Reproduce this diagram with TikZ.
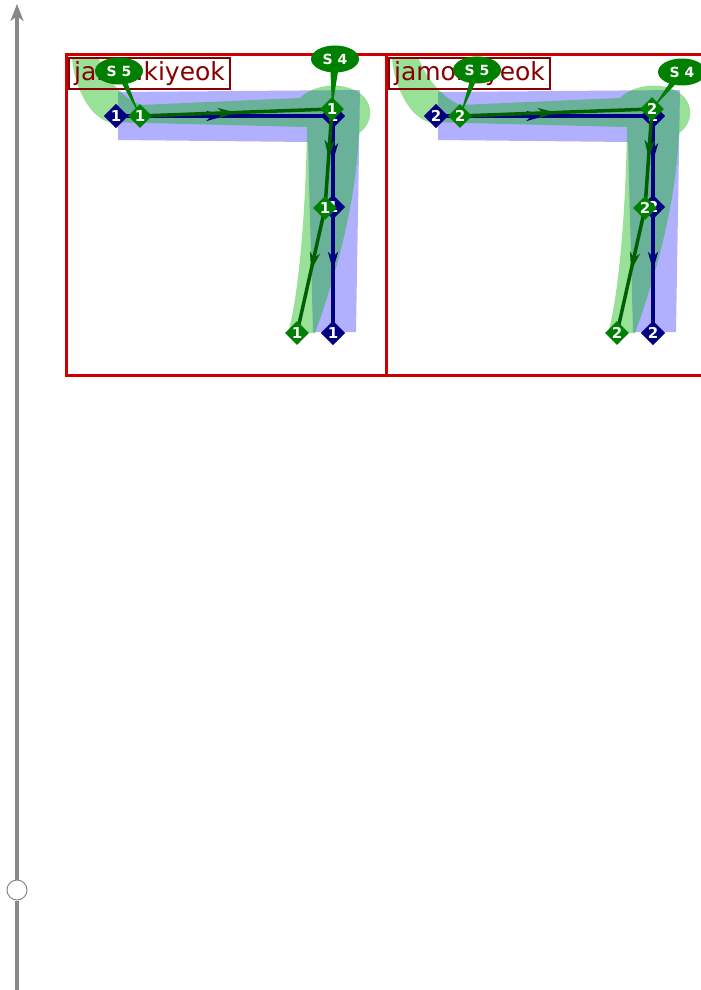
\documentclass[tikz,border=0pt]{standalone}
\usepackage{fontspec}
\setmainfont{DejaVu Sans}
\usetikzlibrary{shapes.geometric,arrows.meta,decorations.markings}
\definecolor{navyc}{RGB}{0,0,128}
\definecolor{dgreen}{RGB}{0,95,0}
\definecolor{mgreen}{RGB}{0,128,0}
\definecolor{shgreen}{RGB}{0,178,0}
\definecolor{panelred}{RGB}{204,0,0}
\definecolor{labred}{RGB}{136,0,0}
\definecolor{tlgray}{RGB}{136,136,136}
\tikzset{
  panelbox/.style={draw=panelred, line width=3pt},
  labelbox/.style={draw=labred, line width=2pt, text=labred, font=\fontsize{25}{25}\selectfont,
    minimum width=161pt, minimum height=31pt, inner sep=0pt, anchor=north west},
  blueshape/.style={fill=blue, fill opacity=0.31},
  greenshape/.style={fill=shgreen, fill opacity=0.4},
  midarrow/.style={postaction={decorate, decoration={markings,
     mark=at position 0.5 with {\arrow{Stealth[length=18pt,width=10pt,inset=5pt]}}}}},
  navyline/.style={draw=navyc, line width=3.5pt, midarrow},
  greenline/.style={draw=dgreen, line width=3.5pt, midarrow},
  navydia/.style={diamond, fill=navyc, text=white, minimum size=24pt, inner sep=0pt,
    font=\bfseries\fontsize{15}{15}\selectfont},
  greendia/.style={diamond, fill=mgreen, text=white, minimum size=24pt, inner sep=0pt,
    font=\bfseries\fontsize{15}{15}\selectfont},
  bubble/.style={ellipse, fill=mgreen, text=white, minimum width=48pt, minimum height=27pt,
    inner sep=0pt, font=\bfseries\fontsize{14}{14}\selectfont},
  tail/.style={fill=mgreen},
}
\begin{document}
\begin{tikzpicture}[x=1pt,y=-1pt]
\useasboundingbox (0,0) rectangle (701,990);

% timeline
\coordinate (tltop) at (17,4);
\coordinate (tlbot) at (17,990);
\node[circle, draw=tlgray, fill=white, line width=1pt, minimum size=20pt, inner sep=0pt] (tlc) at (17,890) {};
\draw[tlgray, line width=4pt] (tlbot) -- (tlc);
\draw[tlgray, line width=4pt, -{Stealth[length=17pt,width=13pt,inset=5pt]}] (tlc) -- (tltop);

\foreach \dx/\n/\ax/\ay/\bx/\by in {0/1/119/71/335/59, 320/2/157/70/362/72}{
\begin{scope}[shift={(\dx,0)}]
  \draw[panelbox] (66,55) rectangle (386,375);
  % shapes
  \fill[blueshape] (118,92) -- (360,90) -- (356,332) -- (313,332) -- (308,142) -- (118,140) -- cycle;
  \fill[greenshape] (72,58) .. controls (74,85) and (88,115) .. (108,122)
     -- (307,127)
     .. controls (306,200) and (300,290) .. (288,333)
     -- (315,333)
     .. controls (338,270) and (356,200) .. (359,133)
     .. controls (374,124) and (376,98) .. (352,89)
     .. controls (335,82) and (312,86) .. (300,98)
     -- (140,105)
     .. controls (118,95) and (105,75) .. (98,57) -- cycle;
  % label
  \node[labelbox] (lab\n) at (68,57) {jamo.kiyeok};
  % navy path
  \node[navydia] (na\n) at (116,116) {\n};
  \node[navydia] (nb\n) at (333,116) {\n};
  \node[navydia] (nc\n) at (333,207) {\n};
  \node[navydia] (nd\n) at (333,333) {\n};
  \draw[navyline] (na\n.center) -- (nb\n.center);
  \draw[navyline] (nb\n.center) -- (nc\n.center);
  \draw[navyline] (nc\n.center) -- (nd\n.center);
  \node[navydia] at (na\n) {\n};
  \node[navydia] at (nb\n) {\n};
  \node[navydia] at (nc\n) {\n};
  \node[navydia] at (nd\n) {\n};
  % green path
  \coordinate (ga\n) at (140,116);
  \coordinate (gb\n) at (332,109);
  \coordinate (gc\n) at (325,208);
  \coordinate (gd\n) at (297,333);
  \draw[greenline] (ga\n) -- (gb\n);
  \draw[greenline] (gb\n) -- (gc\n);
  \draw[greenline] (gc\n) -- (gd\n);
  % bubbles
  \coordinate (s5c\n) at (\ax,\ay);
  \coordinate (s4c\n) at (\bx,\by);
  \fill[tail] ([xshift=-4pt]s5c\n) -- (ga\n) -- ([xshift=4pt]s5c\n) -- cycle;
  \fill[tail] ([xshift=-5pt]s4c\n) -- (gb\n) -- ([xshift=5pt]s4c\n) -- cycle;
  \node[bubble] (s5\n) at (s5c\n) {S 5};
  \node[bubble] (s4\n) at (s4c\n) {S 4};
  % green diamonds
  \node[greendia] (gda\n) at (ga\n) {\n};
  \node[greendia] (gdb\n) at (gb\n) {\n};
  \node[greendia] (gdc\n) at (gc\n) {\n};
  \node[greendia] (gdd\n) at (gd\n) {\n};
\end{scope}
}
\end{tikzpicture}
\end{document}
